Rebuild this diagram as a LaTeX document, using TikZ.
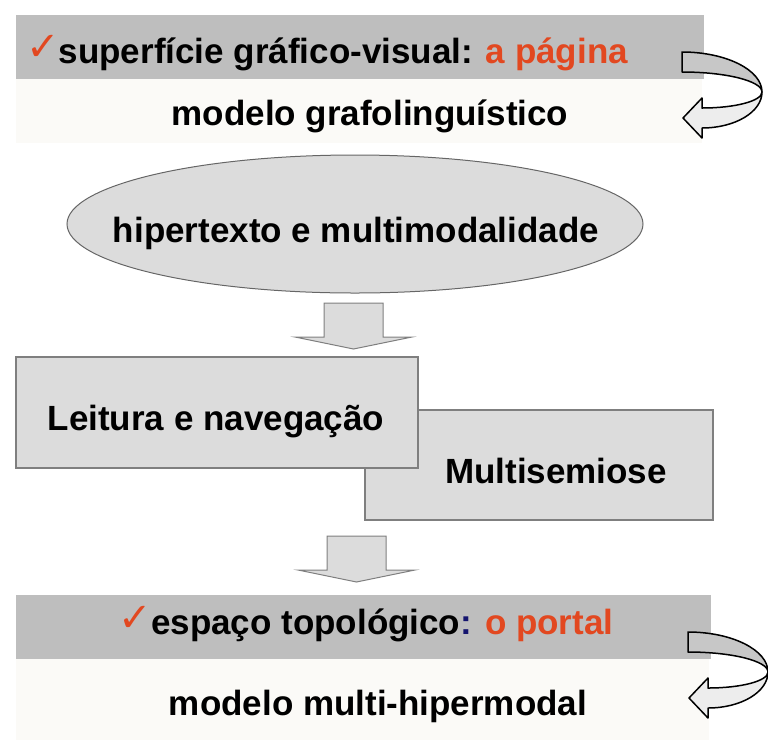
\documentclass[tikz,border=0pt]{standalone}
\usepackage{fontspec}
\setmainfont{Liberation Sans}
\newfontfamily\symfont{DejaVu Sans}
\usetikzlibrary{shapes.geometric}
\definecolor{bandgray}{HTML}{BEBEBE}
\definecolor{palebg}{HTML}{FBFAF7}
\definecolor{boxgray}{HTML}{DCDCDC}
\definecolor{edgegray}{HTML}{7F7F7F}
\definecolor{hotred}{RGB}{226,72,32}
\definecolor{darknavy}{RGB}{20,20,110}
\tikzset{x=1pt, y=-1pt,
 txt/.style={font=\fontsize{35}{40}\selectfont\bfseries, inner sep=0pt, anchor=base},
 band/.style={fill=bandgray, draw=none},
 pale/.style={fill=palebg, draw=none},
 greybox/.style={rectangle, fill=boxgray, draw=edgegray, line width=1.2pt, inner sep=0pt},
 blockarrow/.style={fill=boxgray, draw=edgegray, line width=1pt},
 }
\newcommand{\tick}{\raisebox{3pt}{\color{hotred}\symfont\fontsize{40}{40}\selectfont ✓}\hspace{-1pt}}
% block arrow pointing down: centre x, top y
\newcommand{\blockarrow}[2]{%
  \draw[blockarrow] (#1-29.5,#2) -- (#1+29.5,#2) -- (#1+29.5,#2+34) -- (#1+58.5,#2+34)
    -- (#1,#2+46) -- (#1-58.5,#2+34) -- (#1-29.5,#2+34) -- cycle;}
% twisted curved arrow at the right of a band
\newcommand{\turnarrow}[2]{%
  \begin{scope}[shift={(#1,#2)}, line width=1.5pt, line join=round]
    \draw[fill=black!7] (80,40) .. controls (80,60) and (53,76) .. (20,76) -- (20,86)
      -- (1,66) -- (20,46) -- (20,56) .. controls (53,56) and (80,49) .. (80,40) -- cycle;
    \draw[fill=black!22] (0,0) .. controls (44,0) and (80,18) .. (80,40)
      .. controls (80,29) and (44,20) .. (0,20) -- cycle;
  \end{scope}}

\begin{document}
\begin{tikzpicture}
        \useasboundingbox (0,0) rectangle (768,740);
        % top band
        \fill[pale] (16,79) rectangle (702,143);
        \fill[band] (16,15) rectangle (704,79);
        \node[txt, anchor=base west] (pagina) at (26,63)
            {\tick superfície gráfico-visual: \textcolor{hotred}{a página}};
        \node[txt] (grafo) at (370,125) {modelo grafolinguístico};
        \turnarrow{682}{52}

        % ellipse
        \node[ellipse, fill=boxgray, draw=edgegray!80!black, line width=1pt,
              minimum width=576pt, minimum height=138pt] (hiper) at (355,224) {};
        \node[txt] (hipertxt) at (356,242) {hipertexto e multimodalidade};
        \blockarrow{353.5}{303}

        % two boxes
        \node[greybox, minimum width=348pt, minimum height=110pt] (multi) at (539,465) {};
        \node[greybox, minimum width=402pt, minimum height=111pt] (leitura) at (217,412.5) {};
        \node[txt] (leituratxt) at (216,430) {Leitura e navegação};
        \node[txt] (multitxt) at (556,483) {Multisemiose};
        \blockarrow{356.5}{536}

        % bottom band
        \fill[pale] (16,659) rectangle (709,740);
        \fill[band] (16,595) rectangle (711,659);
        \node[txt] (portal) at (366,634)
            {\tick espaço topológico\textcolor{darknavy}{:} \textcolor{hotred}{o portal}};
        \node[txt] (hipermodal) at (378,715) {modelo multi-hipermodal};
        \turnarrow{688}{632}
\end{tikzpicture}
\end{document}
